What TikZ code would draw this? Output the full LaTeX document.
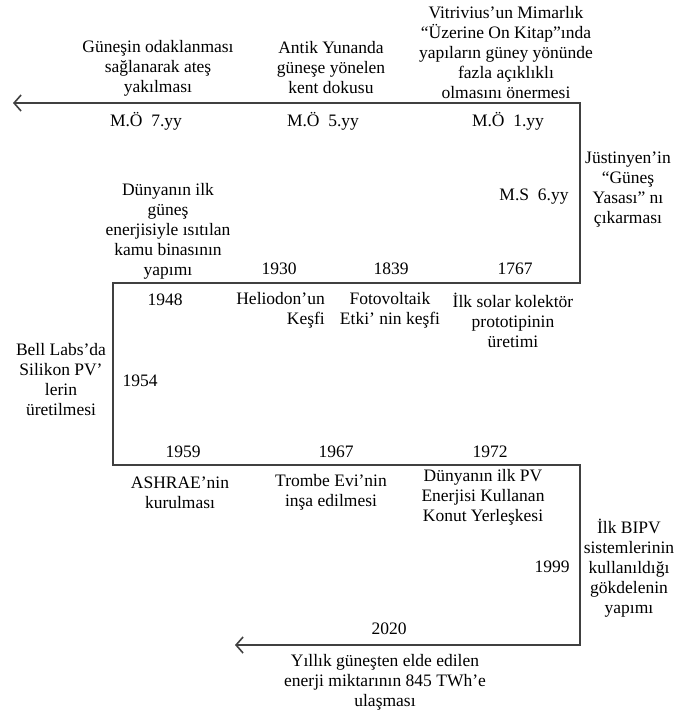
\documentclass[tikz,border=0pt]{standalone}
\usepackage{fontspec}
\setmainfont{Liberation Serif}
\usetikzlibrary{arrows.meta}
\tikzset{
    eventtext/.style={align=center,inner sep=0pt,text=black,font=\fontsize{17.5}{20}\selectfont},
    eventright/.style={eventtext,align=right,anchor=east},
    datetext/.style={inner sep=0pt,text=black,font=\fontsize{17.5}{20}\selectfont},
    timeline/.style={{Straight Barb[length=7pt,width=16pt,line width=1.6pt]}-{Straight Barb[length=7pt,width=16pt,line width=1.6pt]},line width=1.6pt,draw=black!75}
}
\begin{document}
\begin{tikzpicture}[x=1pt,y=-1pt]
            \useasboundingbox (0,0) rectangle (679,715);
            % corners of the timeline
            \coordinate (tstart) at (13,103);
            \coordinate (turna) at (580,103);
            \coordinate (turnb) at (580,283);
            \coordinate (turnc) at (113,283);
            \coordinate (turnd) at (113,465);
            \coordinate (turne) at (580,465);
            \coordinate (turnf) at (580,645);
            \coordinate (tend) at (235,645);
            \draw[timeline] (tstart) -- (turna) -- (turnb) -- (turnc) -- (turnd) -- (turne) -- (turnf) -- (tend);
            % first row
            \node[eventtext] (fire) at (158,68) {Güneşin odaklanması\\sağlanarak ateş\\yakılması};
            \node[eventtext] (greek) at (331,68) {Antik Yunanda\\güneşe yönelen\\kent dokusu};
            \node[eventtext] (vitruv) at (506,53) {Vitrivius’un Mimarlık\\“Üzerine On Kitap”ında\\yapıların güney yönünde\\fazla açıklıklı\\olmasını önermesi};
            \node[datetext] (bc7) at (146,121) {M.Ö~~7.yy};
            \node[datetext] (bc5) at (323,121) {M.Ö~~5.yy};
            \node[datetext] (bc1) at (508,121) {M.Ö~~1.yy};
            \node[eventtext] (justin) at (628,190) {Jüstinyen’in\\“Güneş\\Yasası” nı\\çıkarması};
            \node[datetext] (ad6) at (534,197) {M.S~~6.yy};
            % second row
            \node[eventtext] (public) at (168,231) {Dünyanın ilk\\güneş\\enerjisiyle ısıtılan\\kamu binasının\\yapımı};
            \node[datetext] (y1930) at (279,269) {1930};
            \node[datetext] (y1839) at (391,269) {1839};
            \node[datetext] (y1767) at (515,269) {1767};
            \node[datetext] (y1948) at (165,300) {1948};
            \node[eventright] (helio) at (325,310) {Heliodon’un\\Keşfi};
            \node[eventtext] (photo) at (390,310) {Fotovoltaik\\Etki’ nin keşfi};
            \node[eventtext] (collector) at (513,320) {İlk solar kolektör\\prototipinin\\üretimi};
            \node[eventtext] (bell) at (61,380) {Bell Labs’da\\Silikon PV’\\lerin\\üretilmesi};
            \node[datetext] (y1954) at (140,381) {1954};
            % third row
            \node[datetext] (y1959) at (183,452) {1959};
            \node[datetext] (y1967) at (336,452) {1967};
            \node[datetext] (y1972) at (490,452) {1972};
            \node[eventtext] (ashrae) at (180,493) {ASHRAE’nin\\kurulması};
            \node[eventtext] (trombe) at (331,492) {Trombe Evi’nin\\inşa edilmesi};
            \node[eventtext] (pvhome) at (483,497) {Dünyanın ilk PV\\Enerjisi Kullanan\\Konut Yerleşkesi};
            \node[eventtext] (bipv) at (629,568) {İlk BIPV\\sistemlerinin\\kullanıldığı\\gökdelenin\\yapımı};
            \node[datetext] (y1999) at (552,567) {1999};
            \node[datetext] (y2020) at (389,629) {2020};
            \node[eventtext] (twh) at (385,682) {Yıllık güneşten elde edilen\\enerji miktarının 845 TWh’e\\ulaşması};
        \end{tikzpicture}
\end{document}
